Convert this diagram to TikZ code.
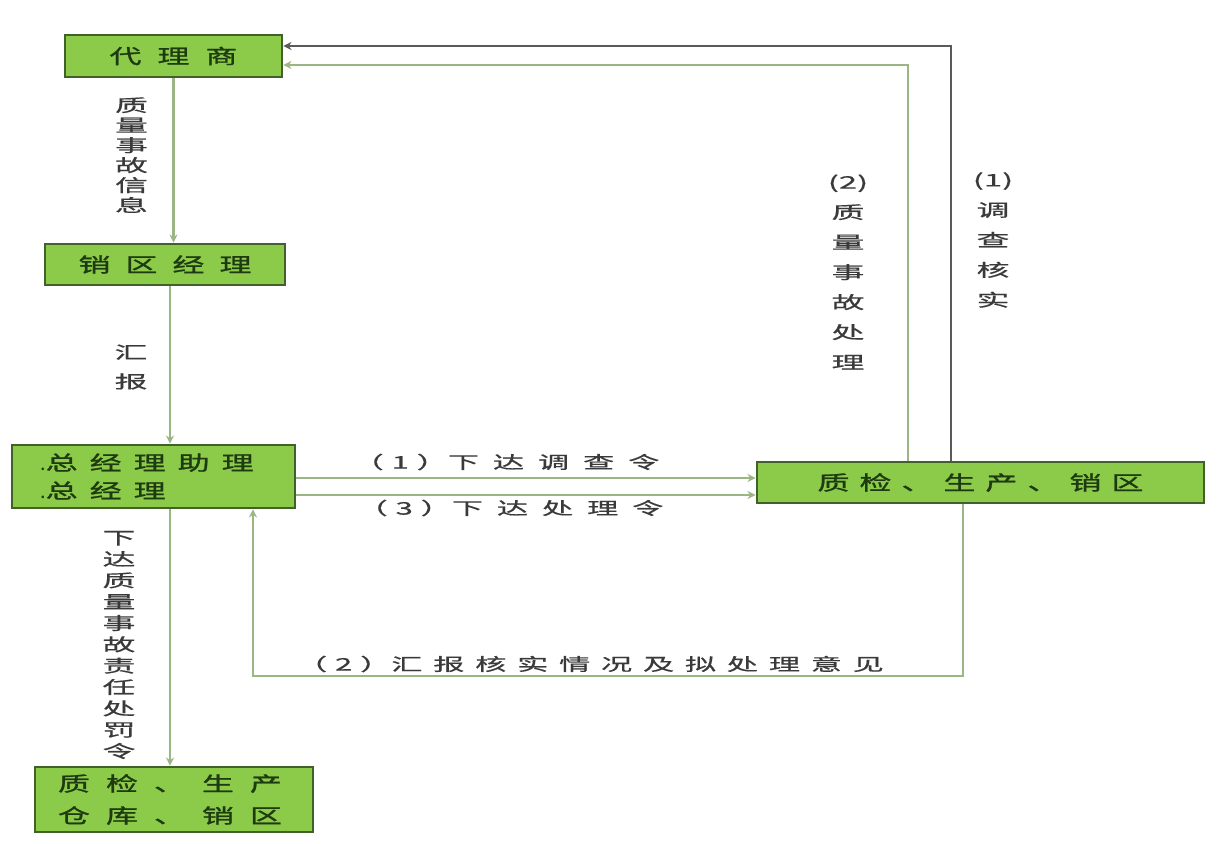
\documentclass[tikz,border=0pt]{standalone}
\usepackage{fontspec}
\setmainfont{Noto Sans CJK SC}
\newcommand\bfnt[2]{\fontspec[FakeStretch=#1,LetterSpace=#2,FakeBold=1.2]{Noto Sans CJK SC}}
\newcommand\lfnt[2]{\fontspec[FakeStretch=#1,LetterSpace=#2,FakeBold=0.6]{Noto Sans CJK SC}}
\usetikzlibrary{arrows.meta}
\definecolor{boxfill}{HTML}{8CCB4A}
\definecolor{boxline}{HTML}{42602A}
\definecolor{boxtext}{HTML}{1E3A10}
\definecolor{connc}{HTML}{9CB585}
\definecolor{darkc}{HTML}{5A5A5A}
\definecolor{lbltext}{HTML}{3A3A3A}
\tikzset{
  gbox/.style={draw=boxline, line width=2.2pt, fill=boxfill, text=boxtext, inner sep=0pt},
  conn/.style={draw=connc, line width=2.2pt, -{Stealth[length=6pt,width=6pt]}},
  darkconn/.style={conn, draw=darkc},
  hlbl/.style={text=lbltext, inner sep=0pt},
  vlbl/.style={text=lbltext, align=center, inner sep=0pt},
}
\begin{document}
\begin{tikzpicture}[x=0.75pt,y=-0.75pt]
\useasboundingbox[fill=white] (0,0) rectangle (1219,843);
% boxes
\node[gbox, minimum width=162.75pt, minimum height=31.5pt,
      font=\bfnt{1.6}{80}\fontsize{15pt}{18pt}\selectfont] (dl) at (173.5,56) {代理商\hspace{8pt}};
\node[gbox, minimum width=180pt, minimum height=30.75pt,
      font=\bfnt{1.6}{75}\fontsize{15pt}{18pt}\selectfont] (xq) at (165,264.5) {销区经理};
\node[gbox, minimum width=212.25pt, minimum height=47.25pt, align=left, text width=170pt,
      font=\bfnt{1.6}{60}\fontsize{15pt}{21pt}\selectfont] (zj) at (153.5,476.5)
      {{\fontspec{Noto Sans CJK SC}.}总经理助理\\{\fontspec{Noto Sans CJK SC}.}总经理};
\node[gbox, minimum width=335.25pt, minimum height=30.75pt,
      font=\bfnt{1.6}{50}\fontsize{15pt}{18pt}\selectfont] (zs) at (980.5,482.5) {质检、生产、销区};
\node[gbox, minimum width=208.5pt, minimum height=48.75pt, align=left, text width=174pt,
      font=\bfnt{1.6}{80}\fontsize{15pt}{24pt}\selectfont] (bt) at (174,799.5) {质检、生产\\仓库、销区};
% helper coordinates
\coordinate (c1) at (170,0);
\coordinate (h1) at (0,478);
\coordinate (h3) at (0,495);
\coordinate (c2) at (963,676);
\coordinate (c3) at (253,676);
\coordinate (c4) at (908,65);
\coordinate (c5) at (951,46);
% connectors
\draw[conn] (dl.south) -- (dl.south |- xq.north);
\draw[conn] (xq.south -| c1) -- (zj.north -| c1);
\draw[conn] (zj.south -| c1) -- (bt.north -| c1);
\draw[conn] (zj.east |- h1) -- (zs.west |- h1);
\draw[conn] (zj.east |- h3) -- (zs.west |- h3);
\draw[conn] (zs.south -| c2) -- (c2) -- (c3) -- (zj.south -| c3);
\draw[conn] (zs.north -| c4) -- (c4) -- (dl.east |- c4);
\draw[darkconn] (zs.north -| c5) -- (c5) -- (dl.east |- c5);
% labels
\node[vlbl, font=\lfnt{1.9}{0}\fontsize{13pt}{15pt}\selectfont] (l1) at (131.5,155) {质\\量\\事\\故\\信\\息};
\node[vlbl, font=\lfnt{1.9}{0}\fontsize{13pt}{22pt}\selectfont] (l2) at (131,367) {汇\\报};
\node[vlbl, font=\lfnt{1.9}{0}\fontsize{13pt}{16pt}\selectfont] (l3) at (119,645) {下\\达\\质\\量\\事\\故\\责\\任\\处\\罚\\令};
\node[vlbl, font=\lfnt{1.9}{0}\fontsize{13pt}{22.5pt}\selectfont] (l4) at (848,272) {(2)\\质\\量\\事\\故\\处\\理};
\node[vlbl, font=\lfnt{1.9}{0}\fontsize{13pt}{22.5pt}\selectfont] (l5) at (993,240) {(1)\\调\\查\\核\\实};
\node[hlbl, font=\lfnt{1.8}{80}\fontsize{13pt}{16pt}\selectfont] (l6) at (506,462) {{\lfnt{1.8}{45}（1）}下达调查令};
\node[hlbl, font=\lfnt{1.8}{80}\fontsize{13pt}{16pt}\selectfont] (l7) at (510,508) {{\lfnt{1.8}{45}（3）}下达处理令};
\node[hlbl, font=\lfnt{1.8}{62}\fontsize{13pt}{16pt}\selectfont] (l8) at (590,664) {{\lfnt{1.8}{45}（2）}汇报核实情况及拟处理意见};
\end{tikzpicture}
\end{document}
